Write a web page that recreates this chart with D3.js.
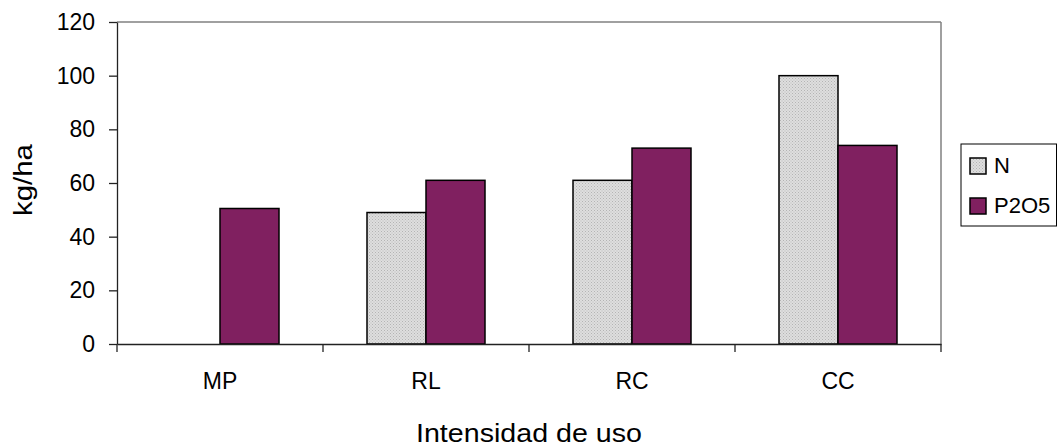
<!DOCTYPE html>
<html><head><meta charset="utf-8">
<script src="https://cdn.jsdelivr.net/npm/d3@7"></script>
<style>body{margin:0;background:#fff;}svg{display:block;font-family:"Liberation Sans",Arial,sans-serif;}</style>
</head><body>
<svg id="c" width="1058" height="446"></svg>
<script>
const categories = ["MP","RL","RC","CC"];
const seriesNames = ["N","P2O5"];
const valuesN = [0, 49, 61, 100];
const valuesP2O5 = [50.5, 61, 73, 74];
const yTicks = [0,20,40,60,80,100,120];

const svg = d3.select("#c");
const FF = "Liberation Sans, Arial, sans-serif";
const m = {l:117, r:941, t:22, b:344};
const x0 = d3.scaleBand().domain(categories).range([m.l, m.r]).padding(0);
const bw = 59;
const x1 = d3.scaleBand().domain(seriesNames).range([-bw, bw]);
const y = d3.scaleLinear().domain([0,120]).range([m.b, m.t]);

const defs = svg.append("defs");
const pat = defs.append("pattern").attr("id","pN").attr("width",3).attr("height",3).attr("patternUnits","userSpaceOnUse");
pat.append("rect").attr("width",3).attr("height",3).attr("fill","#dedede");
pat.append("rect").attr("width",1).attr("height",1).attr("fill","#b4b4b4");
pat.append("rect").attr("x",1.5).attr("y",1.5).attr("width",1).attr("height",1).attr("fill","#bcbcbc");
const colors = {"N":"url(#pN)","P2O5":"#802060"};

// plot border top/right
svg.append("line").attr("x1",m.l).attr("x2",m.r).attr("y1",m.t).attr("y2",m.t).attr("stroke","#808080").attr("stroke-width",1.5);
svg.append("line").attr("x1",m.r).attr("x2",m.r).attr("y1",m.t).attr("y2",m.b).attr("stroke","#808080").attr("stroke-width",1.5);

const data = categories.map((c,i)=>({cat:c, vals:[{s:"N",v:valuesN[i]},{s:"P2O5",v:valuesP2O5[i]}]}));
const g = svg.append("g");
data.forEach(d=>{
  const cx = x0(d.cat) + x0.bandwidth()/2;
  d.vals.forEach(p=>{
    if(p.v<=0) return;
    g.append("rect").attr("x",cx + x1(p.s)).attr("width",x1.bandwidth())
      .attr("y",y(p.v)).attr("height",y(0)-y(p.v))
      .attr("fill",colors[p.s]).attr("stroke","#000").attr("stroke-width",1.5);
  });
});

// Y axis
const ya = svg.append("g").attr("transform",`translate(${m.l},0)`)
  .call(d3.axisLeft(y).tickValues(yTicks).tickSize(8).tickSizeOuter(0).tickPadding(14));
ya.select(".domain").attr("stroke","#222").attr("stroke-width",1.3);
ya.selectAll(".tick line").attr("stroke","#222").attr("stroke-width",1.3);
ya.selectAll(".tick text").attr("font-size",23).attr("fill","#000").attr("font-family",FF);

// X axis
const xa = svg.append("g").attr("transform",`translate(0,${m.b})`)
  .call(d3.axisBottom(x0).tickSize(0).tickPadding(29));
xa.select(".domain").attr("stroke","#222").attr("stroke-width",1.3);
xa.selectAll(".tick text").attr("font-size",23).attr("fill","#000").attr("font-family",FF);
const bounds = categories.map(c=>x0(c)).concat([m.r]);
xa.selectAll(".bt").data(bounds).enter().append("line").attr("class","bt")
  .attr("x1",d=>d).attr("x2",d=>d).attr("y1",0).attr("y2",8).attr("stroke","#222").attr("stroke-width",1.3);

// Titles
svg.append("text").attr("x",(m.l+m.r)/2).attr("y",442).attr("text-anchor","middle")
  .attr("font-size",25).attr("textLength",226).attr("lengthAdjust","spacingAndGlyphs").text("Intensidad de uso");
svg.append("text").attr("transform",`translate(32,180) rotate(-90)`).attr("text-anchor","middle")
  .attr("font-size",25).attr("textLength",72).attr("lengthAdjust","spacingAndGlyphs").text("kg/ha");

// Legend
const lg = svg.append("g").attr("transform","translate(961,144)");
lg.append("rect").attr("width",95.5).attr("height",82).attr("fill","#fff").attr("stroke","#000").attr("stroke-width",1);
seriesNames.forEach((s,i)=>{
  const yy = 14 + i*40;
  lg.append("rect").attr("x",9).attr("y",yy).attr("width",16).attr("height",16).attr("fill",colors[s]).attr("stroke","#000").attr("stroke-width",1.5);
  lg.append("text").attr("x",33).attr("y",yy+15).attr("font-size",22).text(s);
});
</script>
</body></html>
